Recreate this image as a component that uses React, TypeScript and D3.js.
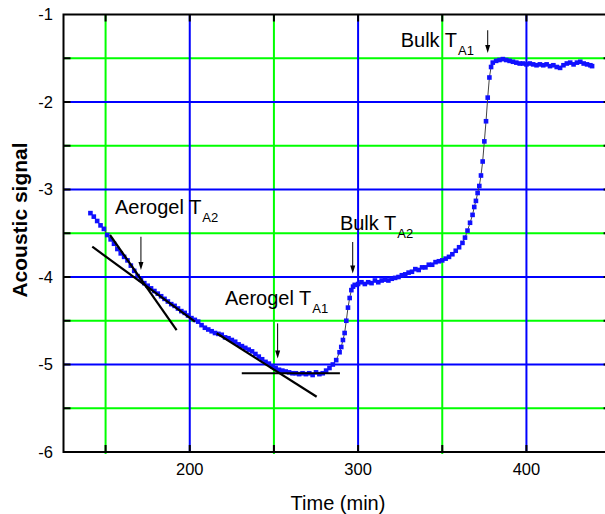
import React from "react";
import * as d3 from "d3";

const timeMin = [
  141, 143, 145, 147, 149, 151, 153, 155, 157, 159, 161, 163, 165, 167, 169, 171, 173, 175, 177, 179,
  181, 183, 185, 187, 189, 191, 193, 195, 197, 199, 201, 203, 205, 207, 209, 211, 213, 215, 217, 219,
  221, 223, 225, 227, 229, 231, 233, 235, 237, 239, 241, 243, 245, 247, 249, 251, 253, 255, 257, 259,
  261, 263, 265, 267, 269, 271, 273, 275, 277, 279, 281, 283, 285, 287, 289, 290, 291, 292, 293, 294,
  295, 296, 297, 298, 300, 302, 304, 306, 308, 310, 312, 314, 316, 318, 320, 322, 324, 326, 328, 330,
  332, 334, 336, 338, 340, 342, 344, 346, 348, 350, 352, 354, 356, 358, 360, 362, 363.5, 365, 366.5, 368,
  369, 370, 371, 372, 373, 374, 375, 376, 377, 378, 379, 380, 382, 384, 386, 388, 390, 392, 394, 396,
  398, 400, 402, 404, 406, 408, 410, 412, 414, 416, 418, 420, 422, 424, 426, 428, 430, 432, 434, 436,
  438, 439,
];

const acousticSignal = [
  -3.27, -3.31, -3.36, -3.41, -3.45, -3.52, -3.57, -3.62, -3.68, -3.73, -3.77, -3.81, -3.87, -3.93, -3.99, -4.03, -4.07, -4.1, -4.13, -4.16,
  -4.19, -4.22, -4.25, -4.28, -4.31, -4.33, -4.36, -4.39, -4.41, -4.44, -4.47, -4.49, -4.51, -4.55, -4.58, -4.6, -4.62, -4.64, -4.65, -4.66,
  -4.69, -4.7, -4.72, -4.74, -4.77, -4.79, -4.81, -4.83, -4.85, -4.88, -4.91, -4.94, -4.97, -4.99, -5.02, -5.04, -5.06, -5.07, -5.08, -5.09,
  -5.1, -5.1, -5.11, -5.1, -5.11, -5.1, -5.12, -5.09, -5.11, -5.1, -5.07, -5.04, -5.0, -4.95, -4.86, -4.8, -4.72, -4.64, -4.5, -4.35,
  -4.24, -4.15, -4.11, -4.09, -4.08, -4.06, -4.08, -4.06, -4.07, -4.04, -4.06, -4.04, -4.03, -4.04, -4.02, -4.01, -4.0, -3.98, -3.97, -3.95,
  -3.94, -3.91, -3.92, -3.89, -3.89, -3.86, -3.86, -3.83, -3.82, -3.81, -3.79, -3.77, -3.74, -3.7, -3.66, -3.61, -3.55, -3.47, -3.38, -3.29,
  -3.2, -3.13, -3.04, -2.96, -2.84, -2.68, -2.45, -2.22, -1.95, -1.72, -1.6, -1.55, -1.53, -1.52, -1.51, -1.52, -1.53, -1.54, -1.55, -1.56,
  -1.56, -1.57, -1.56, -1.57, -1.58, -1.57, -1.58, -1.57, -1.59, -1.58, -1.6, -1.61, -1.58, -1.56, -1.55, -1.57, -1.55, -1.54, -1.56, -1.57,
  -1.58, -1.59,
];

// tangent lines: [t1, v1, t2, v2]
const tangentLines = [
  [142.1, -3.654, 203.1, -4.511],
  [152.6, -3.52, 192.2, -4.606],
  [216.0, -4.643, 275.4, -5.368],
  [230.9, -5.1, 289.2, -5.1],
];

// arrows: [t, vStart, vEnd]
const arrows = [
  [171, -3.54, -3.92],
  [252.2, -4.53, -4.93],
  [296.8, -3.6, -3.96],
  [377, -1.18, -1.44],
];

// labels: main text, subscript, anchor t, anchor v
const labelMain = ["Aerogel T", "Aerogel T", "Bulk T", "Bulk T"];
const labelSub = ["A2", "A1", "A2", "A1"];
const labelT = [155.6, 220.9, 289.2, 325.3];
const labelV = [-3.28, -4.32, -3.463, -1.368];

const xMajorTicks = [200, 300, 400];
const xMinorTicks = [150, 250, 350];
const yMajorTicks = [-1, -2, -3, -4, -5, -6];
const yMinorTicks = [-1.5, -2.5, -3.5, -4.5, -5.5];

const W = 605;
const H = 514;
const left = 63.5;
const right = 610.6;
const top = 14.5;
const bottom = 452;

export default function App() {
  const x = d3.scaleLinear().domain([125, 450]).range([left, right]);
  const y = d3.scaleLinear().domain([-6, -1]).range([bottom, top]);
  const pts = timeMin.map((t, i) => [t, acousticSignal[i]] as [number, number]);
  const line = d3
    .line<[number, number]>()
    .x((d) => x(d[0]))
    .y((d) => y(d[1]));
  const font = "Arial, 'Liberation Sans', Helvetica, sans-serif";
  const tickLen = 7;
  const allX = [...xMajorTicks, ...xMinorTicks];
  const allY = [...yMajorTicks.filter((v) => v > -6 && v < -1), ...yMinorTicks];
  const ms = 4.6;

  return (
    <svg
      width={W}
      height={H}
      style={{ position: "absolute", left: 0, top: 0, background: "#fff" }}
      fontFamily={font}
    >
      <rect x={0} y={0} width={W} height={H} fill="#fff" />
      <defs>
        <clipPath id="plotclip">
          <rect x={left} y={top} width={right - left} height={bottom - top} />
        </clipPath>
      </defs>
      {/* grid */}
      {xMinorTicks.map((t) => (
        <line key={"gxm" + t} x1={x(t)} x2={x(t)} y1={top} y2={bottom + 2} stroke="#00ff00" strokeWidth={2} />
      ))}
      {yMinorTicks.map((v) => (
        <line key={"gym" + v} x1={left} x2={right} y1={y(v)} y2={y(v)} stroke="#00ff00" strokeWidth={2} />
      ))}
      {xMajorTicks.map((t) => (
        <line key={"gx" + t} x1={x(t)} x2={x(t)} y1={top} y2={bottom} stroke="#0000ff" strokeWidth={2} />
      ))}
      {yMajorTicks
        .filter((v) => v > -6 && v < -1)
        .map((v) => (
          <line key={"gy" + v} x1={left} x2={right} y1={y(v)} y2={y(v)} stroke="#0000ff" strokeWidth={2} />
        ))}

      {/* data */}
      <g clipPath="url(#plotclip)">
        <path d={line(pts) || ""} fill="none" stroke="#444" strokeWidth={1} />
        {pts.map((d, i) => (
          <rect key={i} x={x(d[0]) - ms / 2} y={y(d[1]) - ms / 2} width={ms} height={ms} fill="#1010ff" />
        ))}
        {tangentLines.map((l, i) => (
          <line key={"tl" + i} x1={x(l[0])} y1={y(l[1])} x2={x(l[2])} y2={y(l[3])} stroke="#000" strokeWidth={2.2} />
        ))}
      </g>

      {/* arrows */}
      {arrows.map((a, i) => {
        const ax = x(a[0]);
        const y1 = y(a[1]);
        const y2 = y(a[2]);
        return (
          <g key={"ar" + i}>
            <line x1={ax} x2={ax} y1={y1} y2={y2 - 6} stroke="#000" strokeWidth={1} />
            <path d={`M${ax - 2.5},${y2 - 8} L${ax + 2.5},${y2 - 8} L${ax},${y2} Z`} fill="#000" />
          </g>
        );
      })}

      {/* labels */}
      {labelMain.map((m, i) => (
        <text key={"lb" + i} x={x(labelT[i])} y={y(labelV[i])} fontSize={20} fill="#000">
          {m}
          <tspan fontSize={13} dy={8} dx={1}>
            {labelSub[i]}
          </tspan>
        </text>
      ))}

      {/* frame */}
      <rect x={left} y={top} width={right - left} height={bottom - top} fill="none" stroke="#000" strokeWidth={2} />
      {allX.map((t) => (
        <g key={"tx" + t}>
          <line x1={x(t)} x2={x(t)} y1={bottom} y2={bottom - tickLen} stroke="#000" strokeWidth={2} />
          <line x1={x(t)} x2={x(t)} y1={top} y2={top + tickLen} stroke="#000" strokeWidth={2} />
        </g>
      ))}
      {allY.map((v) => (
        <g key={"ty" + v}>
          <line x1={left} x2={left + tickLen} y1={y(v)} y2={y(v)} stroke="#000" strokeWidth={2} />
          <line x1={right} x2={right - tickLen} y1={y(v)} y2={y(v)} stroke="#000" strokeWidth={2} />
        </g>
      ))}

      {/* tick labels */}
      {xMajorTicks.map((t) => (
        <text key={"xl" + t} x={x(t)} y={475} fontSize={16.5} textAnchor="middle" fill="#000">
          {t}
        </text>
      ))}
      {yMajorTicks.map((v) => (
        <text key={"yl" + v} x={53} y={y(v)} dy="0.35em" fontSize={16.5} textAnchor="end" fill="#000">
          {v}
        </text>
      ))}

      {/* axis titles */}
      <text x={338} y={510} fontSize={20} textAnchor="middle" fill="#000">
        Time (min)
      </text>
      <text
        transform={`translate(27,220) rotate(-90)`}
        fontSize={21}
        fontWeight="bold"
        textAnchor="middle"
        fill="#000"
      >
        Acoustic signal
      </text>
    </svg>
  );
}
